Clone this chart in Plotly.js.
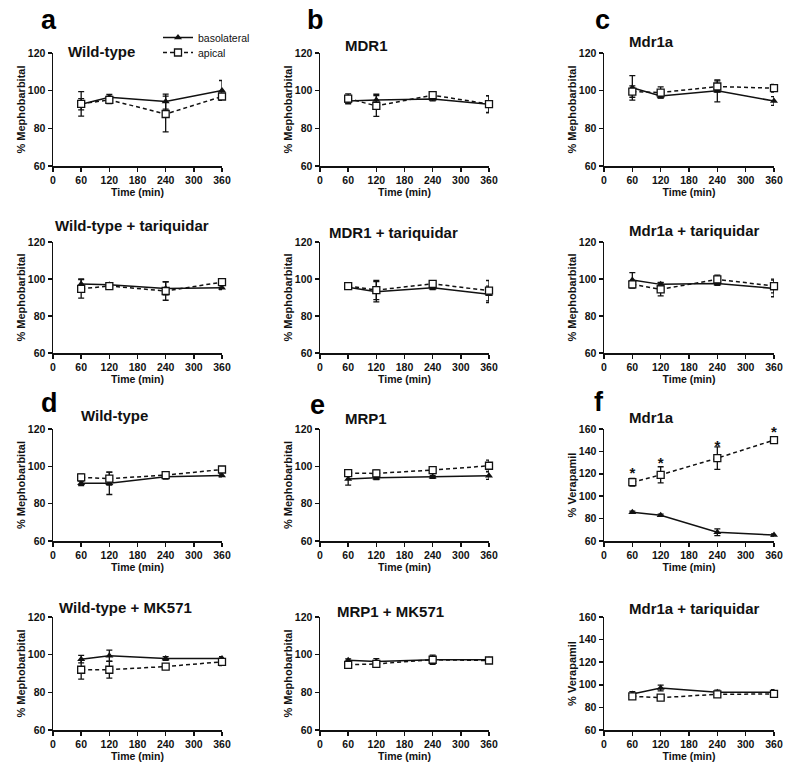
<!DOCTYPE html>
<html>
<head>
<meta charset="utf-8">
<script src="https://cdn.plot.ly/plotly-3.0.1.min.js"></script>
<style>html,body{margin:0;padding:0;background:#fff;}#chart{width:800px;height:769px;}</style>
</head>
<body>
<div id="chart"></div>
<script>
// ---- Data ----
const times = [60, 120, 240, 360];
const xTicks = [0, 60, 120, 180, 240, 300, 360];

// Panel a: Wild-type
const aBaso = [92.8, 96.5, 94.2, 100.1];  const aBasoErr = [3, 1.5, 4, 5.3];
const aApic = [93.0, 95.1, 87.6, 96.9];   const aApicErr = [6.5, 2, 9.5, 1.5];
// Panel b: MDR1
const bBaso = [94.5, 95.1, 95.6, 92.8];   const bBasoErr = [1.5, 3, 1, 4.5];
const bApic = [95.8, 91.9, 97.6, 92.9];   const bApicErr = [2.5, 5.5, 1, 4.5];
// Panel c: Mdr1a
const cBaso = [101.5, 97.2, 99.9, 94.5];  const cBasoErr = [6.5, 1, 5.8, 2.3];
const cApic = [99.5, 99.0, 102.2, 101.3]; const cApicErr = [3, 3, 3, 2];
// Wild-type + tariquidar
const wtTqBaso = [97.3, 96.9, 94.9, 95.3]; const wtTqBasoErr = [2.8, 1, 3.5, 1];
const wtTqApic = [94.7, 96.2, 93.5, 98.3]; const wtTqApicErr = [5, 1, 5, 1.5];
// MDR1 + tariquidar
const mdrTqBaso = [95.6, 93.1, 95.3, 91.7]; const mdrTqBasoErr = [1, 5.5, 1, 4.5];
const mdrTqApic = [96.2, 94.0, 97.4, 93.7]; const mdrTqApicErr = [1, 5.2, 1, 5.5];
// Mdr1a + tariquidar
const mdraTqBaso = [99.4, 97.1, 97.6, 94.9]; const mdraTqBasoErr = [4, 1, 1, 4.5];
const mdraTqApic = [97.1, 94.4, 99.8, 96.2]; const mdraTqApicErr = [2, 3.5, 2.3, 3.7];
// Panel d: Wild-type
const dBaso = [90.9, 90.9, 94.4, 95.1];   const dBasoErr = [1.2, 6, 1.2, 0.8];
const dApic = [94.1, 93.4, 95.3, 98.3];   const dApicErr = [1.7, 3.5, 1.5, 0.8];
// Panel e: MRP1
const eBaso = [93.2, 93.9, 94.4, 95.0];   const eBasoErr = [3.3, 1, 0.8, 2];
const eApic = [96.4, 96.2, 98.0, 100.3];  const eApicErr = [1, 1.7, 1, 3];
// Panel f: Mdr1a (verapamil)
const fBaso = [85.7, 83.0, 67.8, 65.4];   const fBasoErr = [1, 1, 3, 1];
const fApic = [112.5, 119.1, 134.0, 150.1]; const fApicErr = [3.4, 7.2, 10, 1.5];
const fSigY = [119.5, 128.5, 143.5, 156.5]; // positions of the "*" significance marks
// Wild-type + MK571
const wtMkBaso = [97.6, 99.4, 98.0, 98.0]; const wtMkBasoErr = [2, 3, 1, 1];
const wtMkApic = [92.0, 92.0, 93.7, 96.2]; const wtMkApicErr = [5, 4.5, 1, 2];
// MRP1 + MK571
const mrpMkBaso = [97.0, 96.4, 97.3, 97.3]; const mrpMkBasoErr = [0.8, 1.5, 1, 1];
const mrpMkApic = [94.6, 95.1, 97.3, 96.9]; const mrpMkApicErr = [1, 1.5, 2.5, 1];
// Mdr1a + tariquidar (verapamil)
const fTqBaso = [91.9, 97.2, 93.3, 93.3]; const fTqBasoErr = [2, 2.6, 2, 2.5];
const fTqApic = [89.8, 88.6, 91.6, 91.9]; const fTqApicErr = [1.5, 1, 1.5, 2];

const panelTitles = ['Wild-type', 'MDR1', 'Mdr1a',
  'Wild-type + tariquidar', 'MDR1 + tariquidar', 'Mdr1a + tariquidar',
  'Wild-type', 'MRP1', 'Mdr1a',
  'Wild-type + MK571', 'MRP1 + MK571', 'Mdr1a + tariquidar'];
const panelLetters = ['a', 'b', 'c', 'd', 'e', 'f'];
const yTitles = ['% Mephobarbital', '% Mephobarbital', '% Mephobarbital',
  '% Mephobarbital', '% Mephobarbital', '% Mephobarbital',
  '% Mephobarbital', '% Mephobarbital', '% Verapamil',
  '% Mephobarbital', '% Mephobarbital', '% Verapamil'];

const panels = [
  [aBaso, aBasoErr, aApic, aApicErr],
  [bBaso, bBasoErr, bApic, bApicErr],
  [cBaso, cBasoErr, cApic, cApicErr],
  [wtTqBaso, wtTqBasoErr, wtTqApic, wtTqApicErr],
  [mdrTqBaso, mdrTqBasoErr, mdrTqApic, mdrTqApicErr],
  [mdraTqBaso, mdraTqBasoErr, mdraTqApic, mdraTqApicErr],
  [dBaso, dBasoErr, dApic, dApicErr],
  [eBaso, eBasoErr, eApic, eApicErr],
  [fBaso, fBasoErr, fApic, fApicErr],
  [wtMkBaso, wtMkBasoErr, wtMkApic, wtMkApicErr],
  [mrpMkBaso, mrpMkBasoErr, mrpMkApic, mrpMkApicErr],
  [fTqBaso, fTqBasoErr, fTqApic, fTqApicErr]
];

// ---- Layout geometry (pixels) ----
const W = 800, H = 769;
const colX = [[53, 222], [320, 489], [604, 774]];
const rowY = [[53, 166], [242, 353], [429, 541], [617, 730]];
const px = x => x / W;
const py = y => 1 - y / H;

const FONT = 'Liberation Sans, Arial, sans-serif';
const boldFont = (s) => ({family: FONT, size: s, color: '#111', weight: 700});
const legendBase = (topPx) => ({
  x: px(158), y: py(topPx), xanchor: 'left', yanchor: 'top',
  font: {family: FONT, size: 10.5, color: '#111'},
  bgcolor: 'rgba(0,0,0,0)', itemwidth: 30, tracegroupgap: 0
});

const data = [];
const layout = {
  width: W, height: H,
  margin: {l: 0, r: 0, t: 0, b: 0},
  paper_bgcolor: '#fff', plot_bgcolor: '#fff',
  showlegend: true,
  legend: legendBase(23),
  legend2: legendBase(38),
  annotations: [],
  font: {family: FONT}
};

panels.forEach((p, i) => {
  const r = Math.floor(i / 3), c = i % 3;
  const n = i + 1;
  const xa = n === 1 ? 'x' : 'x' + n;
  const ya = n === 1 ? 'y' : 'y' + n;
  const isVera = (i === 8 || i === 11);
  const yRange = isVera ? [60, 160] : [60, 120];
  layout[n === 1 ? 'xaxis' : 'xaxis' + n] = {
    domain: [px(colX[c][0]), px(colX[c][1])], anchor: ya,
    range: [0, 360], tickvals: xTicks, ticktext: xTicks.map(String),
    showline: true, linecolor: '#111', linewidth: 1.5, mirror: false,
    ticks: 'outside', ticklen: 4, tickwidth: 1.5, tickcolor: '#111',
    showgrid: false, zeroline: false, fixedrange: true,
    tickfont: boldFont(10.5),
    title: {text: 'Time (min)', font: boldFont(10.5), standoff: 1}
  };
  layout[n === 1 ? 'yaxis' : 'yaxis' + n] = {
    domain: [py(rowY[r][1]), py(rowY[r][0])], anchor: xa,
    range: yRange, dtick: 20, tick0: 60,
    showline: true, linecolor: '#111', linewidth: 1.5,
    ticks: 'outside', ticklen: 4, tickwidth: 1.5, tickcolor: '#111',
    showgrid: false, zeroline: false, fixedrange: true,
    tickfont: boldFont(10.5),
    title: {text: yTitles[i], font: boldFont(11), standoff: 0}
  };
  data.push({
    type: 'scatter', mode: 'lines+markers', x: times, y: p[0],
    xaxis: xa, yaxis: ya, name: 'basolateral', showlegend: i === 0, legend: 'legend',
    cliponaxis: false,
    line: {color: '#111', width: 1.5},
    marker: {symbol: 'triangle-up', size: 7, color: '#111'},
    error_y: {type: 'data', array: p[1], visible: true, color: '#111', thickness: 1.3, width: 3}
  });
  data.push({
    type: 'scatter', mode: 'lines+markers', x: times, y: p[2],
    xaxis: xa, yaxis: ya, name: 'apical', showlegend: i === 0, legend: 'legend2',
    cliponaxis: false,
    line: {color: '#111', width: 1.5, dash: '4px,3px'},
    marker: {symbol: 'square', size: 7, color: '#fff', line: {color: '#111', width: 1.3}},
    error_y: {type: 'data', array: p[3], visible: true, color: '#111', thickness: 1.3, width: 3}
  });
});

// Significance stars in panel f
data.push({
  type: 'scatter', mode: 'text', x: times, y: fSigY, text: times.map(() => '*'),
  xaxis: 'x9', yaxis: 'y9', showlegend: false, cliponaxis: false,
  textfont: boldFont(15), textposition: 'middle center', hoverinfo: 'skip'
});

// Panel titles (pixel positions: left, vertical center)
const titlePos = [[66, 52], [343, 45], [627, 42],
  [53, 225], [327, 232], [627, 230],
  [79, 415], [343, 419], [627, 417],
  [57, 607], [335, 611], [627, 608]];
panelTitles.forEach((t, i) => {
  layout.annotations.push({
    text: t, xref: 'paper', yref: 'paper', x: px(titlePos[i][0]), y: py(titlePos[i][1]),
    xanchor: 'left', yanchor: 'middle', showarrow: false, font: boldFont(15)
  });
});
const letterPos = [[39, 20], [305, 20], [593, 20], [39, 403], [308, 405], [592, 402]];
panelLetters.forEach((t, i) => {
  layout.annotations.push({
    text: t, xref: 'paper', yref: 'paper', x: px(letterPos[i][0]), y: py(letterPos[i][1]),
    xanchor: 'left', yanchor: 'middle', showarrow: false,
    font: {family: FONT, size: 27, color: '#000', weight: 700}
  });
});

Plotly.newPlot('chart', data, layout, {displayModeBar: false, staticPlot: true});
</script>
</body>
</html>
